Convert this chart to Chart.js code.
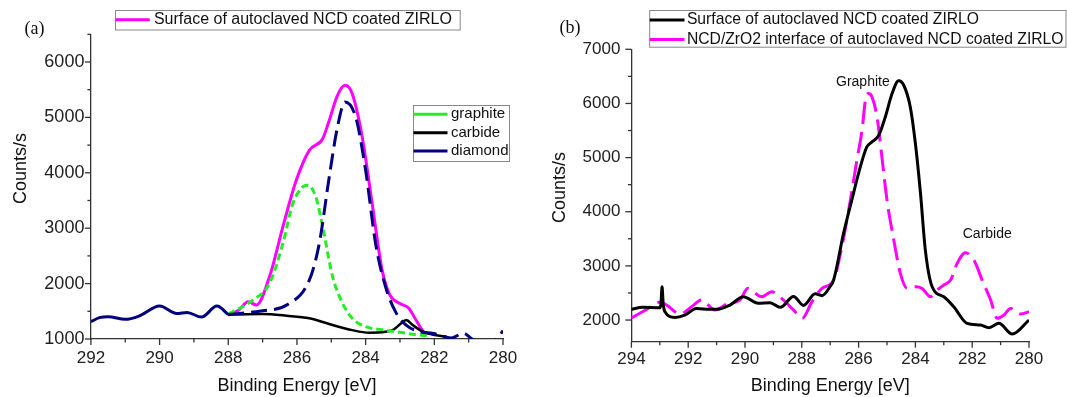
<!DOCTYPE html>
<html><head><meta charset="utf-8">
<script src="https://cdn.jsdelivr.net/npm/chart.js@4.4.1/dist/chart.umd.min.js"></script>
<style>
html,body{margin:0;padding:0;background:#fff;}
#wrap{position:relative;width:1067px;height:397px;overflow:hidden;background:#fff;}
#ca{position:absolute;left:0;top:0;}
#cb{position:absolute;left:530px;top:0;}
</style></head><body>
<div id="wrap"><canvas id="ca" width="530" height="397"></canvas><canvas id="cb" width="537" height="397"></canvas></div>
<script>
// ---------- Panel (a) data ----------
const aXTicks = [292, 290, 288, 286, 284, 282, 280];
const aYTicks = [1000, 2000, 3000, 4000, 5000, 6000];
const aBackgroundE = [292.0, 291.75, 291.5, 291.0, 290.6, 290.0, 289.5, 289.2, 288.78, 288.33, 288.0];
const aBackgroundC = [1312, 1385, 1402, 1355, 1414, 1594, 1460, 1480, 1395, 1594, 1440];
const aDiamondE = [288.0, 287.5, 287.0, 286.3, 285.64, 285.35, 285.06, 284.82, 284.6, 284.29, 284.0, 283.71, 283.42, 283.12, 282.82, 282.43, 282.03, 281.7, 281.5, 281.15, 280.9, 280.5, 280.2, 280.0];
const aDiamondC = [1440, 1470, 1510, 1613, 2063, 2724, 3925, 4826, 5280, 5006, 4045, 2724, 1943, 1480, 1252, 1132, 1100, 1040, 1020, 1105, 1000, 850, 990, 1150];
const aEnvelopeE = [288.0, 287.7, 287.42, 287.18, 286.8, 286.41, 286.02, 285.64, 285.25, 285.06, 284.82, 284.6, 284.39, 284.1, 283.81, 283.52, 283.3, 283.0, 282.75, 282.55, 282.3, 282.2];
const aEnvelopeC = [1430, 1520, 1672, 1613, 2123, 3024, 3864, 4405, 4616, 4946, 5397, 5580, 5427, 4646, 3445, 2243, 1800, 1640, 1560, 1360, 1120, 1080];
const aGraphiteE = [288.0, 287.28, 286.8, 286.41, 286.12, 285.83, 285.69, 285.45, 285.25, 284.96, 284.67, 284.39, 284.0, 283.42, 283.0, 282.5, 282.2];
const aGraphiteC = [1450, 1703, 2003, 2724, 3445, 3745, 3775, 3565, 3024, 2123, 1643, 1373, 1222, 1160, 1120, 1075, 1060];
const aCarbideE = [288.0, 287.0, 286.3, 285.64, 285.06, 284.39, 283.9, 283.42, 283.2, 282.97, 282.82, 282.63, 282.33, 281.99, 281.64];
const aCarbideC = [1440, 1450, 1420, 1373, 1270, 1160, 1114, 1130, 1165, 1282, 1345, 1252, 1132, 1072, 1042];

// ---------- Panel (b) data ----------
const bXTicks = [294, 292, 290, 288, 286, 284, 282, 280];
const bYTicks = [2000, 3000, 4000, 5000, 6000, 7000];
const bSurfaceE = [294.0, 293.6, 293.0, 292.96, 292.92, 292.88, 292.82, 292.47, 292.12, 291.71, 291.24, 291.0, 290.53, 290.06, 289.53, 289.12, 288.76, 288.29, 287.94, 287.53, 287.29, 287.0, 286.88, 286.53, 286.24, 285.94, 285.71, 285.53, 285.29, 285.06, 284.82, 284.59, 284.41, 284.18, 284.0, 283.82, 283.65, 283.41, 283.0, 282.65, 282.18, 281.71, 281.41, 281.06, 280.59, 280.0];
const bSurfaceC = [2200, 2234, 2225, 2300, 2615, 2300, 2154, 2049, 2092, 2215, 2197, 2197, 2277, 2430, 2308, 2320, 2234, 2435, 2270, 2485, 2450, 2620, 2738, 3599, 4214, 4828, 5198, 5290, 5413, 5751, 6182, 6420, 6336, 5936, 5260, 4337, 3292, 2615, 2430, 2246, 1939, 1908, 1859, 1939, 1742, 2000];
const bInterfaceE = [294.0, 293.5, 293.0, 292.76, 292.29, 291.88, 291.53, 291.06, 290.59, 290.18, 289.9, 289.41, 289.06, 288.71, 288.29, 287.98, 287.65, 287.3, 286.88, 286.59, 286.29, 286.06, 285.88, 285.76, 285.65, 285.53, 285.35, 285.18, 285.0, 284.76, 284.53, 284.29, 284.0, 283.76, 283.47, 283.24, 283.0, 282.76, 282.53, 282.24, 281.94, 281.65, 281.35, 281.12, 280.88, 280.65, 280.29, 280.0];
const bInterfaceC = [2040, 2185, 2330, 2277, 2111, 2246, 2369, 2185, 2308, 2369, 2585, 2431, 2523, 2400, 2185, 2031, 2330, 2580, 2738, 3353, 4214, 4952, 5506, 6059, 6182, 6121, 5751, 5014, 4214, 3476, 2861, 2584, 2615, 2584, 2430, 2553, 2646, 2738, 3046, 3242, 3107, 2738, 2369, 2031, 2092, 2215, 2111, 2154];

const FONT = '"Liberation Sans", Arial, Helvetica, sans-serif';
const SERIF = '"Liberation Serif", "Times New Roman", serif';
const PINK = '#FF00FF', NAVY = '#000080', GREEN = '#22EE22', BLACK = '#000000';

function pts(E, C) { return E.map((e, i) => ({x: e, y: C[i]})); }

function decor(cfg) {
  return {
    id: 'decor_' + cfg.name,
    afterDraw(chart) {
      const {ctx, chartArea: ca, scales: {x, y}} = chart;
      ctx.save();
      ctx.strokeStyle = '#333'; ctx.lineWidth = 1.3;
      for (let v = x.min; v <= x.max + 1e-9; v += 1) {
        const px = x.getPixelForValue(v);
        const len = (Math.round(v) % 2 === 0) ? 6 : 3.5;
        ctx.beginPath(); ctx.moveTo(px, ca.bottom); ctx.lineTo(px, ca.bottom + len); ctx.stroke();
      }
      for (let v = Math.ceil(y.min / 500) * 500; v <= y.max + 1e-9; v += 500) {
        const py = y.getPixelForValue(v);
        const len = (v % 1000 === 0) ? 6 : 3.5;
        ctx.beginPath(); ctx.moveTo(ca.left, py); ctx.lineTo(ca.left - len, py); ctx.stroke();
      }
      ctx.save();
      ctx.translate(cfg.yTitle[0], cfg.yTitle[1]); ctx.rotate(-Math.PI / 2);
      ctx.font = '18px ' + FONT; ctx.fillStyle = '#111'; ctx.textAlign = 'center'; ctx.textBaseline = 'middle';
      ctx.fillText('Counts/s', 0, 0);
      ctx.restore();
      ctx.font = '18px ' + SERIF; ctx.fillStyle = '#111'; ctx.textAlign = 'center'; ctx.textBaseline = 'middle';
      ctx.fillText(cfg.label, cfg.labelPos[0], cfg.labelPos[1]);
      for (const lg of cfg.legends) {
        ctx.strokeStyle = '#888'; ctx.lineWidth = 1;
        ctx.strokeRect(lg.box[0] + 0.5, lg.box[1] + 0.5, lg.box[2] - lg.box[0], lg.box[3] - lg.box[1]);
        ctx.font = lg.font + 'px ' + FONT; ctx.textAlign = 'left'; ctx.textBaseline = 'middle'; ctx.fillStyle = '#111';
        for (const it of lg.items) {
          ctx.strokeStyle = it.color; ctx.lineWidth = 3; ctx.setLineDash([]);
          ctx.beginPath(); ctx.moveTo(lg.lineX[0], it.y); ctx.lineTo(lg.lineX[1], it.y); ctx.stroke();
          ctx.fillText(it.text, lg.textX, it.y);
        }
      }
      ctx.font = '14px ' + FONT; ctx.textAlign = 'center'; ctx.textBaseline = 'middle'; ctx.fillStyle = '#111';
      for (const n of cfg.notes) ctx.fillText(n.text, x.getPixelForValue(n.x), y.getPixelForValue(n.y));
      ctx.restore();
    }
  };
}

function axes(o) {
  const gridOpts = {display: true, drawOnChartArea: false, drawTicks: true, tickLength: 6, color: 'rgba(0,0,0,0)', tickColor: 'rgba(0,0,0,0)'};
  return {
    x: {
      type: 'linear', reverse: true, min: o.xmin, max: o.xmax,
      border: {display: true, color: '#333', width: 1.3},
      grid: gridOpts,
      afterBuildTicks: s => { s.ticks = o.xLabels.map(v => ({value: v})); },
      ticks: {autoSkip: false, maxRotation: 0, padding: o.xpad, color: '#222', font: {size: 17, family: FONT}, callback: v => String(v)},
      title: {display: true, text: 'Binding Energy [eV]', color: '#111', font: {size: 18, family: FONT}, padding: {top: 0, bottom: 0}},
      afterFit: s => { s.height = o.xh; }
    },
    y: {
      type: 'linear', min: o.ymin, max: o.ymax,
      border: {display: true, color: '#333', width: 1.3},
      grid: gridOpts,
      afterBuildTicks: s => { s.ticks = o.yLabels.map(v => ({value: v})); },
      ticks: {autoSkip: false, padding: o.ypad, color: '#222', font: {size: o.yfont, family: FONT}, callback: v => String(v)},
      afterFit: s => { s.width = o.yw; }
    }
  };
}

const common = {responsive: false, animation: false, events: [], plugins: {legend: {display: false}, tooltip: {enabled: false}}};

new Chart(document.getElementById('ca'), {
  type: 'line',
  data: {datasets: [
    {label: 'background', data: pts(aBackgroundE, aBackgroundC), borderColor: NAVY, borderWidth: 3, pointRadius: 0, cubicInterpolationMode: 'monotone'},
    {label: 'diamond', data: pts(aDiamondE, aDiamondC), borderColor: NAVY, borderWidth: 3, borderDash: [16, 7], pointRadius: 0, cubicInterpolationMode: 'monotone'},
    {label: 'graphite', data: pts(aGraphiteE, aGraphiteC), borderColor: GREEN, borderWidth: 3, borderDash: [7, 4], pointRadius: 0, cubicInterpolationMode: 'monotone'},
    {label: 'carbide', data: pts(aCarbideE, aCarbideC), borderColor: BLACK, borderWidth: 2.5, pointRadius: 0, cubicInterpolationMode: 'monotone'},
    {label: 'Surface of autoclaved NCD coated ZIRLO', data: pts(aEnvelopeE, aEnvelopeC), borderColor: PINK, borderWidth: 3, pointRadius: 0, cubicInterpolationMode: 'monotone'}
  ]},
  options: Object.assign({}, common, {
    layout: {padding: {left: 0, right: 27, top: 34.3, bottom: 0}},
    scales: axes({xmin: 280, xmax: 292, ymin: 1000, ymax: 6500, xLabels: aXTicks, yLabels: aYTicks, xh: 58, yw: 90.9, xpad: 3, ypad: 0.5, yfont: 18})
  }),
  plugins: [decor({name: 'a', yTitle: [20.7, 168.5], label: '(a)', labelPos: [34.4, 29],
    legends: [
      {box: [115, 10, 459.7, 29.5], font: 16, lineX: [115.4, 149.8], textX: 153.9, items: [{text: 'Surface of autoclaved NCD coated ZIRLO', color: PINK, y: 19.7}]},
      {box: [413, 105, 509, 161], font: 15, lineX: [413.5, 447.5], textX: 451, items: [
        {text: 'graphite', color: GREEN, y: 114.3}, {text: 'carbide', color: BLACK, y: 132.7}, {text: 'diamond', color: NAVY, y: 151}]}
    ], notes: []})]
});

new Chart(document.getElementById('cb'), {
  type: 'line',
  data: {datasets: [
    {label: 'Surface of autoclaved NCD coated ZIRLO', data: pts(bSurfaceE, bSurfaceC), borderColor: BLACK, borderWidth: 3, pointRadius: 0, cubicInterpolationMode: 'monotone'},
    {label: 'NCD/ZrO2 interface of autoclaved NCD coated ZIRLO', data: pts(bInterfaceE, bInterfaceC), borderColor: PINK, borderWidth: 3, borderDash: [22, 8], pointRadius: 0, cubicInterpolationMode: 'monotone'}
  ]},
  options: Object.assign({}, common, {
    layout: {padding: {left: 0, right: 38, top: 49.3, bottom: 0}},
    scales: axes({xmin: 280, xmax: 294, ymin: 1600, ymax: 7000, xLabels: bXTicks, yLabels: bYTicks, xh: 55.3, yw: 101.4, xpad: 1, ypad: 5, yfont: 17})
  }),
  plugins: [decor({name: 'b', yTitle: [30, 187.5], label: '(b)', labelPos: [40, 28],
    legends: [
      {box: [119.2, 10, 535.5, 46.7], font: 15.7, lineX: [119.7, 154.5], textX: 156.9, items: [
        {text: 'Surface of autoclaved NCD coated ZIRLO', color: BLACK, y: 20}, {text: 'NCD/ZrO2 interface of autoclaved NCD coated ZIRLO', color: PINK, y: 39.5}]}
    ], notes: [{text: 'Graphite', x: 285.85, y: 6391}, {text: 'Carbide', x: 281.47, y: 3587}]})]
});
</script>
</body></html>
